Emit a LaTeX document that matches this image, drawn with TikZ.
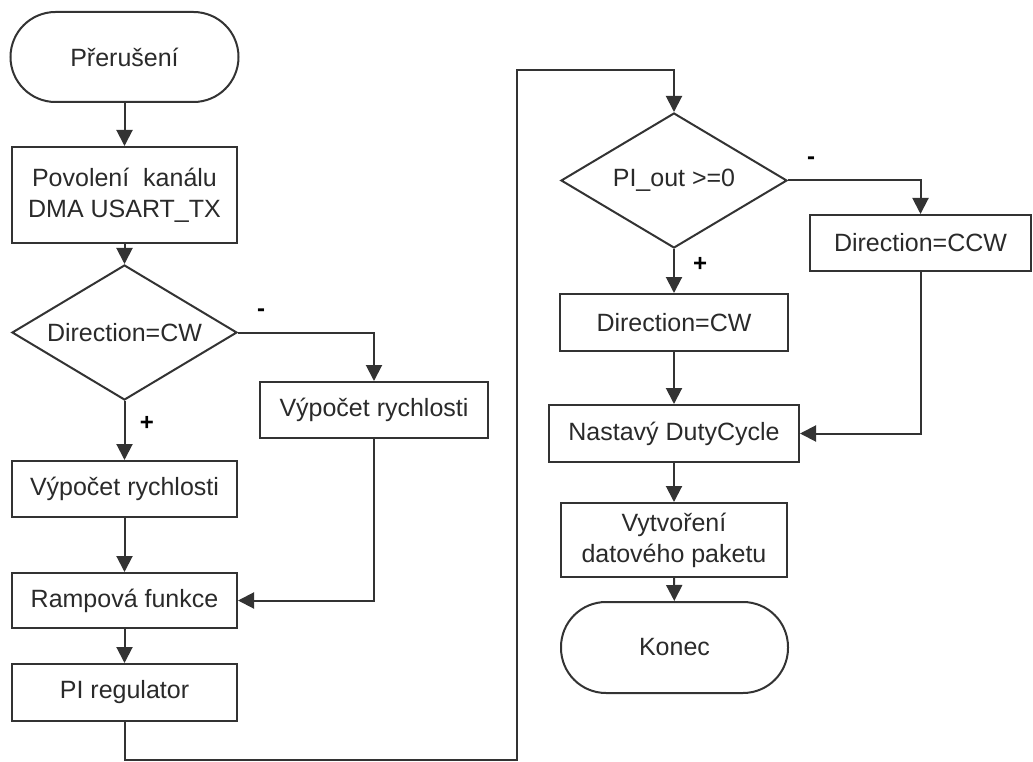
\documentclass[tikz,border=0pt]{standalone}
\usepackage{fontspec}
\setmainfont{Liberation Sans}
\usetikzlibrary{arrows.meta,shapes.geometric}
\definecolor{ln}{HTML}{333333}
\definecolor{tx}{HTML}{2A2A2A}
\tikzset{
  base/.style={draw=ln, line width=2pt, text=tx, inner sep=0pt, align=center,
    font=\fontsize{25}{31}\selectfont},
  proc/.style={base, rectangle},
  term/.style={base, rectangle, rounded corners=45pt},
  dec/.style={base, diamond, shape aspect=1.667},
  conn/.style={draw=ln, line width=2pt, -{Triangle[length=16pt,width=16pt]}},
  sign/.style={text=black, font=\bfseries\fontsize{24}{28}\selectfont, inner sep=0pt}
}
\begin{document}
\begin{tikzpicture}[x=1pt,y=-1pt]
\useasboundingbox (0,0) rectangle (1033,762);
% left column
\node[term, minimum width=228pt, minimum height=90pt] (start) at (124.5,57) {Přerušení};
\node[proc, minimum width=225pt, minimum height=96pt] (b1) at (124.5,195) {Povolení\ \ kanálu\\DMA USART\_TX};
\node[dec, minimum width=225pt, minimum height=135pt] (d1) at (124.5,332.5) {Direction=CW};
\node[proc, minimum width=228pt, minimum height=56pt] (rv) at (374,410) {Výpočet rychlosti};
\node[proc, minimum width=225pt, minimum height=56pt] (lv) at (124.5,489) {Výpočet rychlosti};
\node[proc, minimum width=225pt, minimum height=55pt] (ramp) at (124.5,600.5) {Rampová funkce};
\node[proc, minimum width=225pt, minimum height=57pt] (pi) at (124.5,692.5) {PI regulator};
% right column
\node[dec, minimum width=226pt, minimum height=135pt] (d2) at (674,180.5) {PI\_out >=0};
\node[proc, minimum width=221pt, minimum height=56pt] (ccw) at (920.5,243) {Direction=CCW};
\node[proc, minimum width=228pt, minimum height=57pt] (cw) at (674,322.5) {Direction=CW};
\node[proc, minimum width=250pt, minimum height=57pt] (nast) at (674,433.5) {Nastavý DutyCycle};
\node[proc, minimum width=226pt, minimum height=74pt] (vytv) at (674,540) {Vytvoření\\datového paketu};
\node[term, minimum width=227pt, minimum height=91pt] (konec) at (674.5,647.5) {Konec};
% signs
\node[sign] (m1) at (261,313) {-};
\node[sign] (p1) at (147,423) {+};
\node[sign] (m2) at (811,161) {-};
\node[sign] (p2) at (700,264) {+};
% routing points
\coordinate (c1) at (124.5,760);
\coordinate (c2) at (517,760);
\coordinate (c3) at (517,70);
\coordinate (c4) at (674,70);
% connectors
\draw[conn] (start) -- (b1);
\draw[conn] (b1) -- (d1);
\draw[conn] (d1.east) -| (rv.north);
\draw[conn] (d1.south) -- (lv.north);
\draw[conn] (lv) -- (ramp);
\draw[conn] (rv.south) |- (ramp.east);
\draw[conn] (ramp) -- (pi);
\draw[conn] (pi.south) -- (c1) -- (c2) -- (c3) -- (c4) -- (d2.north);
\draw[conn] (d2.east) -| (ccw.north);
\draw[conn] (d2.south) -- (cw.north);
\draw[conn] (cw) -- (nast);
\draw[conn] (ccw.south) |- (nast.east);
\draw[conn] (nast) -- (vytv);
\draw[conn] (vytv) -- (konec);
\end{tikzpicture}
\end{document}
